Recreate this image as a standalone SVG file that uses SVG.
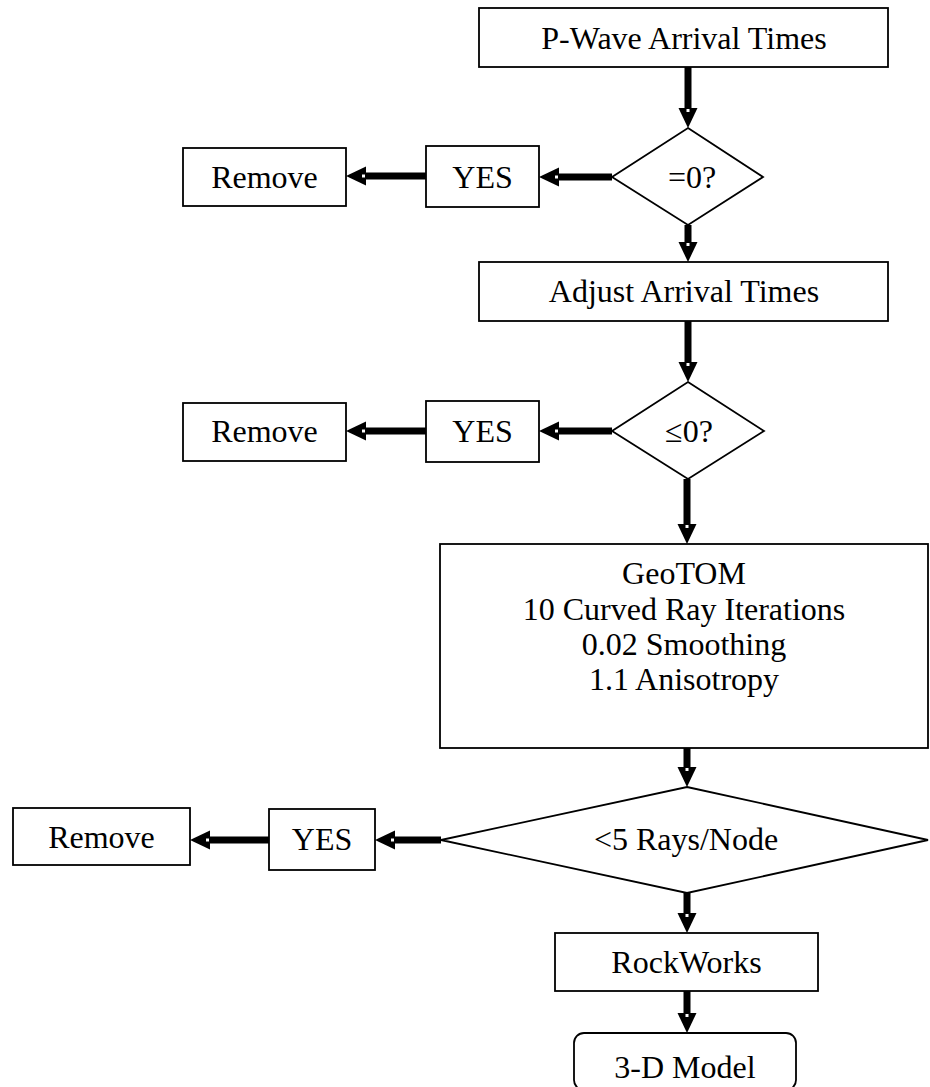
<svg xmlns="http://www.w3.org/2000/svg" width="930" height="1087" viewBox="0 0 930 1087">
<style>
.box{fill:#fff;stroke:#000;stroke-width:1.8}
.t{font-family:"Liberation Serif","Times New Roman",serif;font-size:32px;fill:#000;text-anchor:middle}
.c{stroke:#000;stroke-width:7;fill:none;marker-end:url(#ah)}
</style>
<defs>
<marker id="ah" viewBox="0 0 20 20" markerWidth="20" markerHeight="20" refX="0" refY="10" orient="auto" markerUnits="userSpaceOnUse">
<path d="M0,0.5 L20,10 L0,19.5 Z" fill="#000"/>
<rect x="1" y="8.5" width="3" height="3" fill="#fff"/>
</marker>
</defs>
<rect width="930" height="1087" fill="#fff"/>
<g id="connectors">
<line class="c" x1="688" y1="67" x2="688" y2="108"/>
<line class="c" x1="688" y1="225" x2="688" y2="242"/>
<line class="c" x1="612" y1="177" x2="559" y2="177"/>
<line class="c" x1="426" y1="176" x2="366" y2="176"/>
<line class="c" x1="688" y1="321" x2="688" y2="362"/>
<line class="c" x1="612" y1="431" x2="559" y2="431"/>
<line class="c" x1="426" y1="431" x2="366" y2="431"/>
<line class="c" x1="687" y1="479" x2="687" y2="524"/>
<line class="c" x1="687" y1="748" x2="687" y2="767"/>
<line class="c" x1="441" y1="840" x2="395" y2="840"/>
<line class="c" x1="269" y1="840" x2="210" y2="840"/>
<line class="c" x1="687" y1="893" x2="687" y2="913"/>
<line class="c" x1="687" y1="991" x2="687" y2="1013"/>
</g>
<g id="pwave">
<rect class="box" x="479" y="8" width="409" height="59"/>
<text class="t" x="684" y="49">P-Wave Arrival Times</text>
</g>
<g id="d1">
<polygon class="box" points="688,128 763,177 688,225 612,177"/>
<text class="t" x="692" y="188">=0?</text>
</g>
<g id="yes1">
<rect class="box" x="426" y="146" width="113" height="61"/>
<text class="t" x="482.5" y="188">YES</text>
</g>
<g id="remove1">
<rect class="box" x="183" y="148" width="163" height="58"/>
<text class="t" x="264.5" y="188">Remove</text>
</g>
<g id="adjust">
<rect class="box" x="479" y="262" width="409" height="59"/>
<text class="t" x="684" y="302">Adjust Arrival Times</text>
</g>
<g id="d2">
<polygon class="box" points="688,382 764,431 688,479 612,431"/>
<text class="t" x="689" y="442">≤0?</text>
</g>
<g id="yes2">
<rect class="box" x="426" y="401" width="113" height="61"/>
<text class="t" x="482.5" y="442">YES</text>
</g>
<g id="remove2">
<rect class="box" x="183" y="403" width="163" height="58"/>
<text class="t" x="264.5" y="442">Remove</text>
</g>
<g id="geotom">
<rect class="box" x="440" y="544" width="488" height="204"/>
<text class="t" x="684" y="584">GeoTOM</text>
<text class="t" x="684" y="620">10 Curved Ray Iterations</text>
<text class="t" x="684" y="655">0.02 Smoothing</text>
<text class="t" x="684" y="690">1.1 Anisotropy</text>
</g>
<g id="d3">
<polygon class="box" points="687,787 928,840 687,893 441,840"/>
<text class="t" x="686" y="850">&lt;5 Rays/Node</text>
</g>
<g id="yes3">
<rect class="box" x="269" y="809" width="106" height="61"/>
<text class="t" x="322" y="850">YES</text>
</g>
<g id="remove3">
<rect class="box" x="13" y="808" width="177" height="57"/>
<text class="t" x="101.5" y="848">Remove</text>
</g>
<g id="rockworks">
<rect class="box" x="555" y="933" width="263" height="58"/>
<text class="t" x="686.5" y="973">RockWorks</text>
</g>
<g id="model">
<rect class="box" x="574" y="1033" width="222" height="57" rx="10"/>
<text class="t" x="685" y="1078">3-D Model</text>
</g>
</svg>
